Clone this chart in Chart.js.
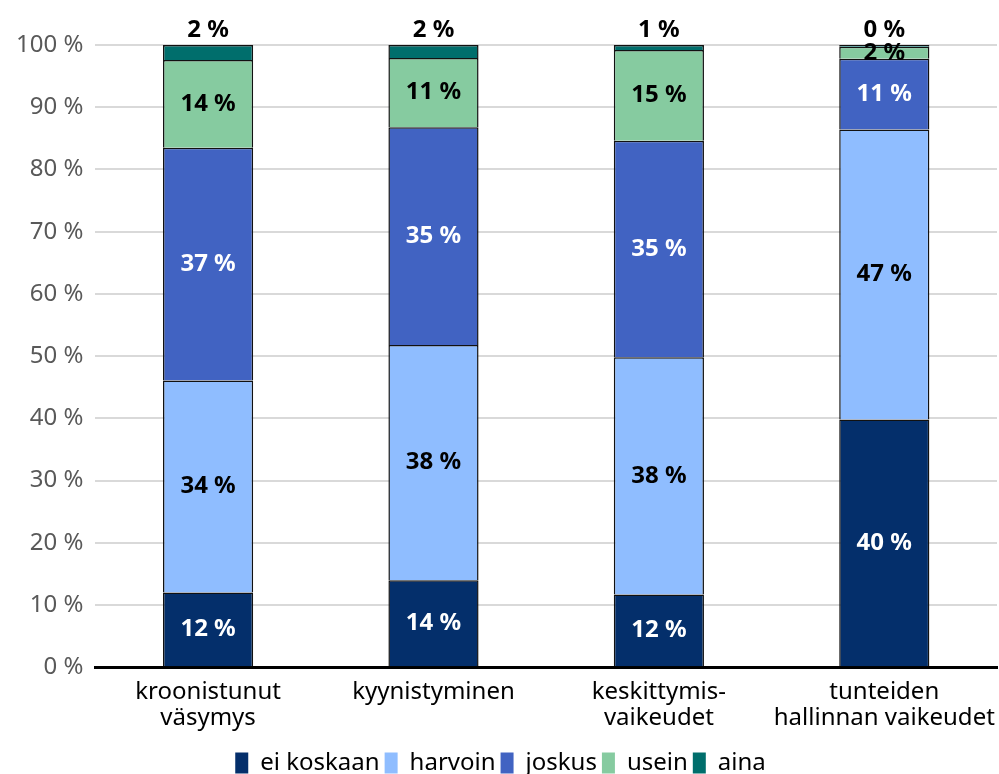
<!DOCTYPE html>
<html>
<head>
<meta charset="utf-8">
<script src="https://cdn.jsdelivr.net/npm/chart.js@4.4.1/dist/chart.umd.min.js"></script>
<style>
  html, body { margin: 0; padding: 0; background: #fff; }
  #wrap { width: 999px; height: 774px; }
</style>
</head>
<body>
<div id="wrap"><canvas id="chart"></canvas></div>
<script>
const categories = [['kroonistunut', 'väsymys'], 'kyynistyminen', ['keskittymis-', 'vaikeudet'], ['tunteiden', 'hallinnan vaikeudet']];
const eiKoskaan = [12.0, 14.0, 11.7, 39.8];
const harvoin = [34.1, 37.8, 38.1, 46.6];
const joskus = [37.4, 35.0, 34.8, 11.4];
const usein = [14.1, 11.1, 14.6, 1.9];
const aina = [2.4, 2.1, 0.8, 0.3];
const yTicks = [0, 10, 20, 30, 40, 50, 60, 70, 80, 90, 100];

const FONT = "'Noto Sans', sans-serif";

// numerot palkkien sisään, "aina" palkin päälle
const segmentLabels = {
    id: 'segmentLabels',
    afterDatasetsDraw(chart) {
        const ctx = chart.ctx;
        ctx.save();
        ctx.font = 'bold 24px ' + FONT;
        ctx.textAlign = 'center';
        chart.data.datasets.forEach((ds, i) => {
            const meta = chart.getDatasetMeta(i);
            meta.data.forEach((bar, j) => {
                const txt = Math.round(ds.data[j]) + ' %';
                ctx.fillStyle = ds.labelColor;
                if (ds.onTop) {
                    ctx.textBaseline = 'bottom';
                    ctx.fillText(txt, bar.x, bar.y - 3);
                } else {
                    ctx.textBaseline = 'middle';
                    ctx.fillText(txt, bar.x, (bar.y + bar.base) / 2);
                }
            });
        });
        ctx.restore();
    }
};

// legenda vähän alemmas
const legendShift = {
    id: 'legendShift',
    afterLayout(chart) {
        chart.legend.top += 11;
        chart.legend.bottom += 11;
    }
};

const ctx = document.getElementById('chart').getContext('2d');
new Chart(ctx, {
    type: 'bar',
    data: {
        labels: categories,
        datasets: [
            { label: 'ei koskaan', data: eiKoskaan, backgroundColor: '#042f6b', labelColor: '#fff' },
            { label: 'harvoin', data: harvoin, backgroundColor: '#8fbdff', labelColor: '#000' },
            { label: 'joskus', data: joskus, backgroundColor: '#4163c2', labelColor: '#fff' },
            { label: 'usein', data: usein, backgroundColor: '#86cba0', labelColor: '#000' },
            { label: 'aina', data: aina, backgroundColor: '#006e6c', labelColor: '#000', onTop: true }
        ].map(d => Object.assign(d, {
            borderColor: '#111',
            borderWidth: 1.5,
            barPercentage: 0.8,
            categoryPercentage: 0.5
        }))
    },
    options: {
        responsive: true,
        maintainAspectRatio: false,
        animation: false,
        layout: { padding: { top: 45, right: 2, left: 4, bottom: 0 } },
        plugins: {
            legend: {
                position: 'bottom',
                labels: {
                    font: { family: FONT, size: 24 },
                    color: '#000',
                    boxWidth: 13,
                    boxHeight: 21,
                    padding: 5,
                    generateLabels(chart) {
                        return chart.data.datasets.map((d, i) => ({
                            text: d.label,
                            fillStyle: d.backgroundColor,
                            strokeStyle: d.backgroundColor,
                            lineWidth: 0,
                            datasetIndex: i
                        }));
                    }
                }
            },
            tooltip: { enabled: false }
        },
        scales: {
            x: {
                stacked: true,
                grid: { display: false },
                border: { display: true, color: '#000', width: 3 },
                ticks: {
                    color: '#000',
                    font: { family: FONT, size: 24, lineHeight: 1.12 },
                    maxRotation: 0,
                    autoSkip: false,
                    padding: 3
                }
            },
            y: {
                stacked: true,
                min: 0,
                max: 100,
                afterBuildTicks(scale) {
                    scale.ticks = yTicks.map(v => ({ value: v }));
                },
                grid: { color: '#d9d9d9', lineWidth: 2, drawTicks: false },
                border: { display: false },
                ticks: {
                    color: '#595959',
                    font: { family: FONT, size: 24 },
                    padding: 12,
                    callback: v => v + ' %'
                }
            }
        }
    },
    plugins: [segmentLabels, legendShift]
});
</script>
</body>
</html>
